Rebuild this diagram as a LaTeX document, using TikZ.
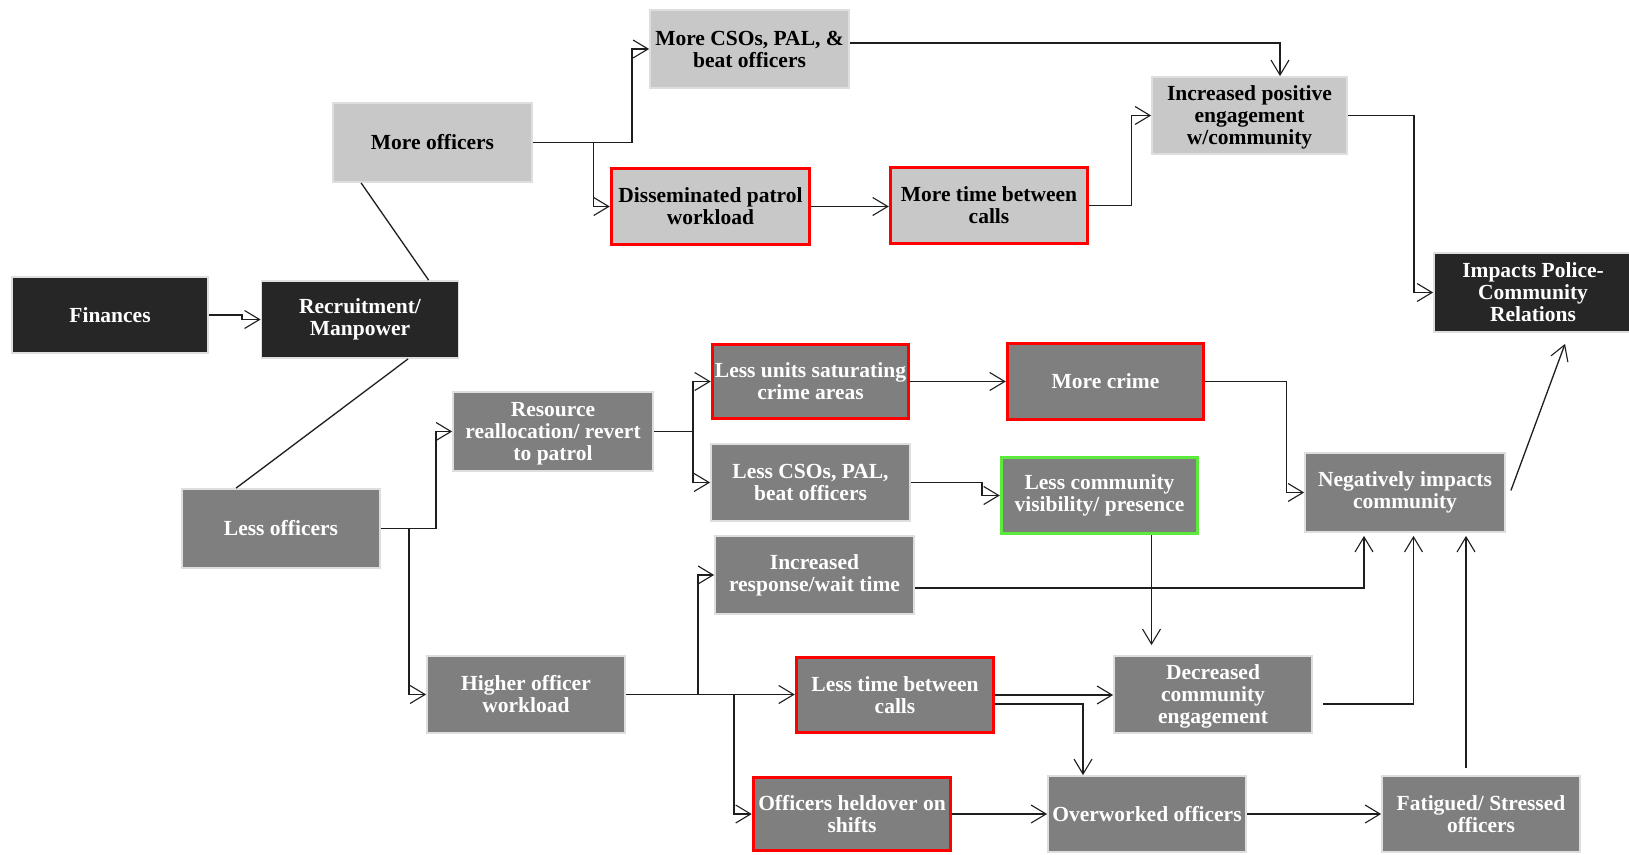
\documentclass[tikz,border=0pt]{standalone}
\usepackage{fontspec}
\setmainfont{Liberation Serif}
\usetikzlibrary{arrows.meta,calc}
\definecolor{boxdark}{HTML}{262626}
\definecolor{boxmid}{HTML}{7F7F7F}
\definecolor{boxlight}{HTML}{C8C8C8}
\definecolor{hlred}{HTML}{FF0000}
\definecolor{hlgreen}{HTML}{5CEB3C}
\definecolor{wirecol}{HTML}{1E1E1E}
% taller first line, so three-line labels sit a little lower in their box
\newcommand{\tallfirst}{\rule{0pt}{19.5pt}}

\begin{document}
\begin{tikzpicture}[x=1pt, y=-1pt,
  every node/.style={font=\fontsize{21.5}{22}\selectfont\bfseries},
  box/.style={rectangle, inner sep=0pt, align=center, draw=black!13, line width=1.8pt},
  dark/.style={box, fill=boxdark, text=white},
  mid/.style={box, fill=boxmid, text=white},
  light/.style={box, fill=boxlight, text=black},
  redrim/.style={draw=hlred, line width=3.5pt},
  greenrim/.style={draw=hlgreen, line width=3.5pt},
  sz/.style 2 args={minimum width=#1pt, minimum height=#2pt},
  wire/.style={draw=wirecol, line width=1.3pt},
  arr/.style={wire, -{Straight Barb[length=15pt,width=18pt,line width=1.1pt]}},
]
\useasboundingbox (0,0) rectangle (1629,854);
\fill[white] (0,0) rectangle (1629,854);

% ---- boxes ----
\node[dark, sz={196}{76}] (fin) at (110,315) {Finances};
\node[dark, sz={197}{77}] (rec) at (360,319.5) {Recruitment/\\Manpower};
\node[light, sz={199}{79}] (more) at (432.5,142.5) {More officers};
\node[light, sz={199}{78}] (mcso) at (749.5,49) {More CSOs, PAL, \&\\beat officers};
\node[light, redrim, sz={198}{76}] (diss) at (710.5,206.5) {Disseminated patrol\\workload};
\node[light, redrim, sz={197}{76}] (mtime) at (989,205.5) {More time between\\calls};
\node[light, sz={195}{77}] (incp) at (1249.5,115.5) {\tallfirst Increased positive\\engagement\\w/community};
\node[dark, sz={198}{79}] (imp) at (1533,292.5) {Impacts Police-\\Community\\Relations};
\node[mid, sz={198}{79}] (less) at (281,528.5) {Less officers};
\node[mid, sz={200}{79}] (res) at (553,431.5) {\tallfirst Resource\\reallocation/ revert\\to patrol};
\node[mid, sz={198}{77}] (high) at (526,694.5) {Higher officer\\workload};
\node[mid, redrim, sz={196}{74}] (lunits) at (810.5,381.5) {Less units saturating\\crime areas};
\node[mid, sz={199}{77}] (lcso) at (810.5,482.5) {Less CSOs, PAL,\\beat officers};
\node[mid, sz={199}{78}] (irt) at (814.5,575) {Increased\\response/wait time};
\node[mid, redrim, sz={197}{75}] (ltime) at (895,695) {Less time between\\calls};
\node[mid, redrim, sz={197}{73}] (held) at (852,814) {Officers heldover on\\shifts};
\node[mid, redrim, sz={196}{76}] (crime) at (1105.5,381.5) {More crime};
\node[mid, greenrim, sz={196}{76}] (lvis) at (1099.5,495.5) {Less community\\visibility/ presence};
\node[mid, sz={200}{79}] (neg) at (1405,492.5) {Negatively impacts\\community};
\node[mid, sz={198}{77}] (dec) at (1213,694.5) {\tallfirst Decreased\\community\\engagement};
\node[mid, sz={198}{76}] (over) at (1147,814) {Overworked officers};
\node[mid, sz={198}{76}] (fat) at (1481,814) {Fatigued/ Stressed\\officers};

% ---- connectors ----
\draw[arr] (fin.east) -- ++(33,0) |- (rec.west);
\draw[wire] ([xshift=29pt]more.south west) -- ([xshift=168pt]rec.north west);
\draw[wire] ([xshift=147.5pt]rec.south west) -- ([xshift=55pt]less.north west);

\draw[arr] (more.east) -- ++(99,0) |- (mcso.west);
\draw[arr] ([xshift=60.5pt]more.east) |- (diss.west);
\draw[arr] ([yshift=6pt]mcso.east) -| ([xshift=30.5pt]incp.north);
\draw[arr] (diss.east) -- (diss.east -| mtime.west);
\draw[arr] (mtime.east) -- ++(42.5,0) |- (incp.west);
\draw[arr] (incp.east) -- ++(66,0) |- (imp.west);

\draw[arr] (less.east) -- ++(55,0) |- (res.west);
\draw[arr] ([xshift=28pt]less.east) |- (high.west);
\draw[arr] (res.east) -- ++(39,0) |- (lunits.west);
\draw[arr] ([xshift=39pt]res.east) |- (lcso.west);
\draw[arr] (high.east) -- (high.east -| ltime.west);
\draw[arr] ([xshift=72pt]high.east) |- (irt.west);
\draw[arr] ([xshift=108pt]high.east) |- (held.west);

\draw[arr] (lunits.east) -- (lunits.east -| crime.west);
\draw[arr] (lcso.east) -- ++(71,0) |- (lvis.west);
\draw[arr] (crime.east) -- ++(81.5,0) |- (neg.west);
\coordinate (visdrop) at ([xshift=52pt]lvis.south);
\draw[arr, shorten >=10pt] (visdrop) -- (visdrop |- dec.north);
\draw[arr, shorten >=3pt] ([yshift=-13pt]irt.east) -| ([xshift=-41pt]neg.south);
\draw[arr] (ltime.east) -- (ltime.east -| dec.west);
\draw[arr] ([yshift=-9pt]ltime.east) -| ([xshift=-64pt]over.north);
\draw[arr] (held.east) -- (held.east -| over.west);
\draw[arr] (over.east) -- (over.east -| fat.west);
\draw[arr, shorten >=3pt] ([xshift=10pt,yshift=-9.5pt]dec.east) -| ([xshift=8.5pt]neg.south);
\coordinate (fatup) at ([xshift=-15pt,yshift=7pt]fat.north);
\draw[arr, shorten >=3pt] (fatup) -- (fatup |- neg.south);
\draw[arr] ([xshift=5pt,yshift=2pt]neg.east) -- ([xshift=32pt,yshift=-11pt]imp.south);
\end{tikzpicture}
\end{document}
